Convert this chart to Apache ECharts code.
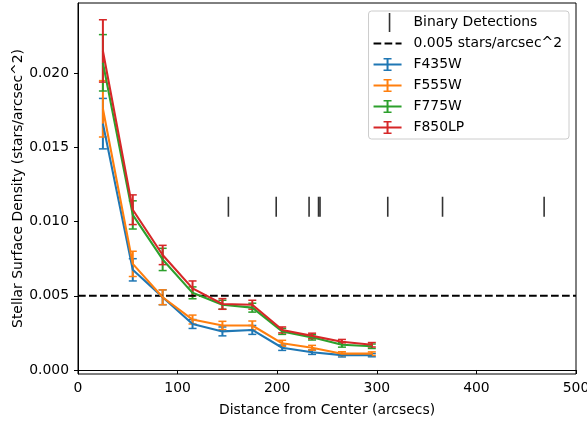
<!DOCTYPE html>
<html>
<head>
<meta charset="utf-8">
<script src="https://cdn.jsdelivr.net/npm/echarts@6/dist/echarts.min.js"></script>
<style>
  html, body { margin: 0; padding: 0; background: #fff; }
  #chart { width: 587px; height: 422px; }
</style>
</head>
<body>
<div id="chart"></div>
<script>
// Radial bins (arcsec from cluster center)
const distance = [25, 55, 85, 115, 145, 175, 205, 235, 265, 295];

// Stellar surface density per filter (stars/arcsec^2) and 1-sigma errors
const f435w    = [0.0166, 0.00675, 0.0049, 0.0031, 0.0026, 0.0027, 0.0015, 0.0012, 0.0010, 0.0010];
const f435wErr = [0.0017, 0.00075, 0.0005, 0.0003, 0.0003, 0.0003, 0.00018, 0.00015, 0.00012, 0.00011];
const f555w    = [0.0176, 0.00715, 0.0049, 0.0034, 0.0030, 0.0030, 0.0018, 0.0015, 0.0011, 0.0011];
const f555wErr = [0.0019, 0.00085, 0.0005, 0.0003, 0.00028, 0.0003, 0.0002, 0.00016, 0.00013, 0.00012];
const f775w    = [0.0207, 0.01045, 0.00745, 0.0052, 0.0044, 0.0042, 0.0026, 0.0022, 0.0017, 0.0016];
const f775wErr = [0.0019, 0.00095, 0.00075, 0.0004, 0.0003, 0.0003, 0.0002, 0.00018, 0.00016, 0.00015];
const f850lp    = [0.0215, 0.0108, 0.00775, 0.0055, 0.00445, 0.0044, 0.0027, 0.0023, 0.0019, 0.0017];
const f850lpErr = [0.0021, 0.0010, 0.00065, 0.0005, 0.00036, 0.0003, 0.0002, 0.00018, 0.00016, 0.00015];

// Radii of detected binaries, drawn as ticks at a fixed height
const binaryRadii = [151, 199, 232, 241.5, 243, 311, 366, 468];
const binaryLevel = 0.011;

// Reference density level
const threshold = 0.005;

// Axis ticks
const xTicks = [0, 100, 200, 300, 400, 500];
const yTicks = [0, 0.005, 0.010, 0.015, 0.020];

const FONT = 'DejaVu Sans';
const FONT_SIZE = 13.9;
const COLORS = { f435w: '#1f77b4', f555w: '#ff7f0e', f775w: '#2ca02c', f850lp: '#d62728' };

function errorBars(name, color, values, errs) {
  return {
    type: 'custom',
    name: name,
    itemStyle: { color: color },
    data: distance.map((d, i) => [d, values[i] - errs[i], values[i] + errs[i]]),
    encode: { x: 0, y: [1, 2] },
    renderItem: function (params, api) {
      const lo = api.coord([api.value(0), api.value(1)]);
      const hi = api.coord([api.value(0), api.value(2)]);
      const half = 4;
      return {
        type: 'group',
        children: [
          { type: 'line', shape: { x1: lo[0], y1: lo[1], x2: hi[0], y2: hi[1] },
            style: { stroke: color, lineWidth: 2 } },
          { type: 'line', shape: { x1: lo[0] - half, y1: lo[1], x2: lo[0] + half, y2: lo[1] },
            style: { stroke: color, lineWidth: 1.5 } },
          { type: 'line', shape: { x1: hi[0] - half, y1: hi[1], x2: hi[0] + half, y2: hi[1] },
            style: { stroke: color, lineWidth: 1.5 } }
        ]
      };
    }
  };
}

function profileLine(name, color, values) {
  return {
    type: 'line',
    name: name,
    color: color,
    symbol: 'none',
    lineStyle: { color: color, width: 2.1 },
    data: distance.map((d, i) => [d, values[i]])
  };
}

// Legend icons, each in a 35x19 box (corner specks fix the box size)
const BOX = 'M0,0h0.01v0.01h-0.01z M34.99,18.99h0.01v0.01h-0.01z ';
const ICON_BINARY = 'path://' + BOX + 'M15.2,0h1.6v19h-1.6z';
const ICON_DASH = 'path://' + BOX + 'M0,8.5h7.7v2h-7.7z M11,8.5h7.7v2h-7.7z M22,8.5h6v2h-6z';
const ICON_ERR = 'path://' + BOX +
  'M0,8.5h28v2h-28z M13,3.5h2v12h-2z M10,3h8v1.4h-8z M10,14.6h8v1.4h-8z';

const chart = echarts.init(document.getElementById('chart'), null, { renderer: 'canvas' });

chart.setOption({
  animation: false,
  backgroundColor: '#fff',
  grid: {
    left: 78, right: 11, top: 3, bottom: 48,
    containLabel: false,
    outerBoundsMode: 'none',
    show: true, borderColor: '#000', borderWidth: 1, backgroundColor: 'transparent'
  },
  xAxis: {
    type: 'value',
    min: 0, max: 500, interval: 100,
    name: 'Distance from Center (arcsecs)',
    nameLocation: 'middle',
    nameGap: 29,
    nameMoveOverlap: false,
    nameTextStyle: { fontFamily: FONT, fontSize: FONT_SIZE, color: '#000' },
    axisLine: { show: true, lineStyle: { color: '#000', width: 1 } },
    axisTick: { show: true, inside: false, length: 4, lineStyle: { color: '#000', width: 1 } },
    axisLabel: { fontFamily: FONT, fontSize: FONT_SIZE, color: '#000', margin: 7,
                 customValues: xTicks },
    splitLine: { show: false }
  },
  yAxis: {
    type: 'value',
    min: -0.00027, max: 0.02473,
    name: 'Stellar Surface Density (stars/arcsec^2)',
    nameLocation: 'middle',
    nameRotate: 90,
    nameGap: 53,
    nameMoveOverlap: false,
    nameTextStyle: { fontFamily: FONT, fontSize: FONT_SIZE, color: '#000' },
    axisLine: { show: true, lineStyle: { color: '#000', width: 1 } },
    axisTick: { show: true, inside: false, length: 4, lineStyle: { color: '#000', width: 1 },
                customValues: yTicks },
    axisLabel: { fontFamily: FONT, fontSize: FONT_SIZE, color: '#000', margin: 9,
                 customValues: yTicks,
                 formatter: v => v.toFixed(3) },
    splitLine: { show: false }
  },
  legend: {
    orient: 'vertical',
    right: 18, top: 11,
    itemWidth: 35, itemHeight: 19, itemGap: 2,
    padding: [2, 7, 2, 5],
    borderColor: '#cccccc', borderWidth: 1, borderRadius: 3,
    backgroundColor: 'rgba(255,255,255,0.8)',
    selectedMode: false,
    itemStyle: { borderWidth: 0 },
    textStyle: { fontFamily: FONT, fontSize: FONT_SIZE, color: '#000' },
    data: [
      { name: 'Binary Detections', icon: ICON_BINARY },
      { name: '0.005 stars/arcsec^2', icon: ICON_DASH },
      { name: 'F435W', icon: ICON_ERR },
      { name: 'F555W', icon: ICON_ERR },
      { name: 'F775W', icon: ICON_ERR },
      { name: 'F850LP', icon: ICON_ERR }
    ]
  },
  series: [
    {
      type: 'scatter',
      name: 'Binary Detections',
      color: '#000',
      symbol: 'rect',
      symbolSize: [1.6, 20],
      itemStyle: { color: '#000' },
      data: binaryRadii.map(r => [r, binaryLevel])
    },
    {
      type: 'line',
      name: '0.005 stars/arcsec^2',
      color: '#000',
      symbol: 'none',
      lineStyle: { color: '#000', width: 2.1, type: [7.7, 3.3] },
      data: [[0, threshold], [500, threshold]]
    },
    profileLine('F435W', COLORS.f435w, f435w),
    errorBars('F435W', COLORS.f435w, f435w, f435wErr),
    profileLine('F555W', COLORS.f555w, f555w),
    errorBars('F555W', COLORS.f555w, f555w, f555wErr),
    profileLine('F775W', COLORS.f775w, f775w),
    errorBars('F775W', COLORS.f775w, f775w, f775wErr),
    profileLine('F850LP', COLORS.f850lp, f850lp),
    errorBars('F850LP', COLORS.f850lp, f850lp, f850lpErr)
  ]
});
</script>
</body>
</html>
